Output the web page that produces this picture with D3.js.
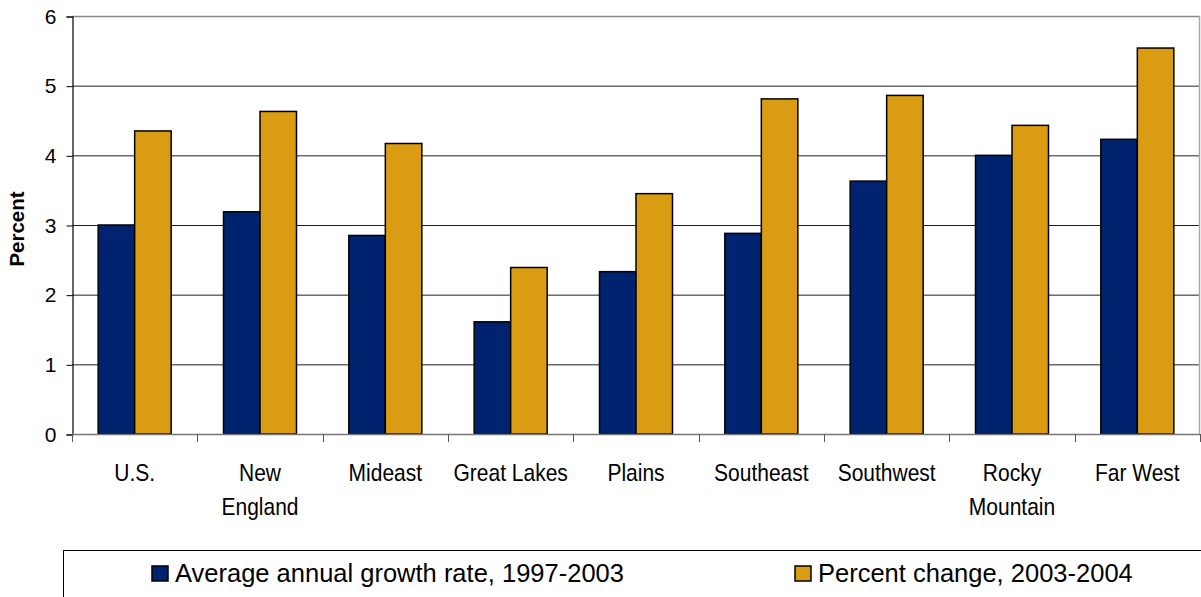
<!DOCTYPE html>
<html lang="en">
<head>
<meta charset="UTF-8">
<title>Growth by region</title>
<script src="https://cdnjs.cloudflare.com/ajax/libs/d3/7.8.5/d3.min.js"></script>
<style>
  body { margin: 0; background: #fff; font-family: "Liberation Sans", Arial, sans-serif; }
  svg { display: block; }
</style>
</head>
<body>
<svg width="1201" height="597"></svg>
<script>
// data
const regions = ["U.S.", "New England", "Mideast", "Great Lakes", "Plains", "Southeast", "Southwest", "Rocky Mountain", "Far West"];
const regionLines = [["U.S."], ["New", "England"], ["Mideast"], ["Great Lakes"], ["Plains"], ["Southeast"], ["Southwest"], ["Rocky", "Mountain"], ["Far West"]];
const avgGrowth = [3.00, 3.19, 2.85, 1.61, 2.33, 2.88, 3.63, 4.00, 4.23];
const pctChange = [4.35, 4.63, 4.17, 2.39, 3.45, 4.81, 4.86, 4.43, 5.54];
const seriesNames = ["Average annual growth rate, 1997-2003", "Percent change, 2003-2004"];
const seriesColors = ["#002370", "#DA9C12"];
const yTicks = [0, 1, 2, 3, 4, 5, 6];

const svg = d3.select("svg");
const pL = 72, pR = 1200, pT = 16, pB = 434;

const x = d3.scaleBand().domain(regions).range([pL, pR]);
const xs = d3.scaleBand().domain([0, 1]).range([0, 73]);
const y = d3.scaleLinear().domain([0, 6]).range([pB, pT]);

// gridlines
svg.append("g").selectAll("line")
  .data(yTicks.filter(d => d > 0 && d < 6))
  .enter().append("line")
  .attr("x1", pL).attr("x2", pR)
  .attr("y1", d => y(d) + 0.5).attr("y2", d => y(d) + 0.5)
  .attr("stroke", "#222").attr("stroke-width", 1);

// plot border top/right
svg.append("line").attr("x1", pL).attr("x2", pR).attr("y1", pT + 0.5).attr("y2", pT + 0.5)
  .attr("stroke", "#888").attr("stroke-width", 1.5);
svg.append("line").attr("x1", pR - 0.5).attr("x2", pR - 0.5).attr("y1", pT).attr("y2", pB)
  .attr("stroke", "#aaa").attr("stroke-width", 1.5);

// bars
const groups = svg.append("g").selectAll("g")
  .data(regions)
  .enter().append("g")
  .attr("transform", d => `translate(${x(d) + (x.bandwidth() - 73) / 2},0)`);

groups.selectAll("rect")
  .data((d, i) => [avgGrowth[i], pctChange[i]])
  .enter().append("rect")
  .attr("x", (d, j) => xs(j))
  .attr("width", xs.bandwidth())
  .attr("y", d => y(d))
  .attr("height", d => y(0) - y(d))
  .attr("fill", (d, j) => seriesColors[j])
  .attr("stroke", "#000")
  .attr("stroke-width", 1.5);

// y axis
const yAxis = svg.append("g")
  .attr("transform", `translate(${pL + 0.5},0.5)`)
  .call(d3.axisLeft(y).tickValues(yTicks).tickFormat(d3.format("d")).tickSize(6).tickPadding(10));
yAxis.select(".domain").attr("stroke", "#000").attr("stroke-width", 1.2);
yAxis.selectAll(".tick line").attr("stroke", "#000");
yAxis.selectAll("text").attr("font-size", 21).attr("fill", "#000")
  .attr("font-family", "Liberation Sans, Arial, sans-serif");

// x axis: ticks at category boundaries
svg.append("line").attr("x1", pL).attr("x2", pR).attr("y1", pB + 0.5).attr("y2", pB + 0.5)
  .attr("stroke", "#777").attr("stroke-width", 1.5);
const bounds = regions.map(d => x(d)).concat([pR]);
svg.append("g").selectAll("line")
  .data(bounds)
  .enter().append("line")
  .attr("x1", d => Math.round(d) + 0.5).attr("x2", d => Math.round(d) + 0.5)
  .attr("y1", pB).attr("y2", pB + 8)
  .attr("stroke", "#555").attr("stroke-width", 1);

// category labels (the source font is a bit narrow, so squeeze horizontally)
const lab = svg.append("g").selectAll("g")
  .data(regions)
  .enter().append("g")
  .attr("transform", d => `translate(${x(d) + x.bandwidth() / 2},481) scale(0.875,1)`)
  .append("text")
  .attr("text-anchor", "middle")
  .attr("font-size", 24)
  .attr("fill", "#000");
lab.selectAll("tspan")
  .data((d, i) => regionLines[i])
  .enter().append("tspan")
  .attr("x", 0)
  .attr("dy", (d, k) => k === 0 ? 0 : 34)
  .text(d => d);

// y label
svg.append("text")
  .attr("transform", "translate(24,229) rotate(-90)")
  .attr("text-anchor", "middle")
  .attr("font-size", 20.5)
  .attr("font-weight", "bold")
  .text("Percent");

// legend
svg.append("rect")
  .attr("x", 63.5).attr("y", 550.5).attr("width", 1200).attr("height", 100)
  .attr("fill", "none").attr("stroke", "#000").attr("stroke-width", 1);

const legendX = [152, 795];
const leg = svg.append("g").selectAll("g")
  .data(seriesNames)
  .enter().append("g")
  .attr("transform", (d, i) => `translate(${legendX[i]},0)`);
leg.append("rect")
  .attr("x", 0).attr("y", 566).attr("width", 16).attr("height", 15)
  .attr("fill", (d, i) => seriesColors[i])
  .attr("stroke", "#000").attr("stroke-width", 1.5);
leg.append("text")
  .attr("x", 23).attr("y", 582)
  .attr("font-size", 25.5)
  .attr("fill", "#000")
  .text(d => d);
</script>
</body>
</html>
